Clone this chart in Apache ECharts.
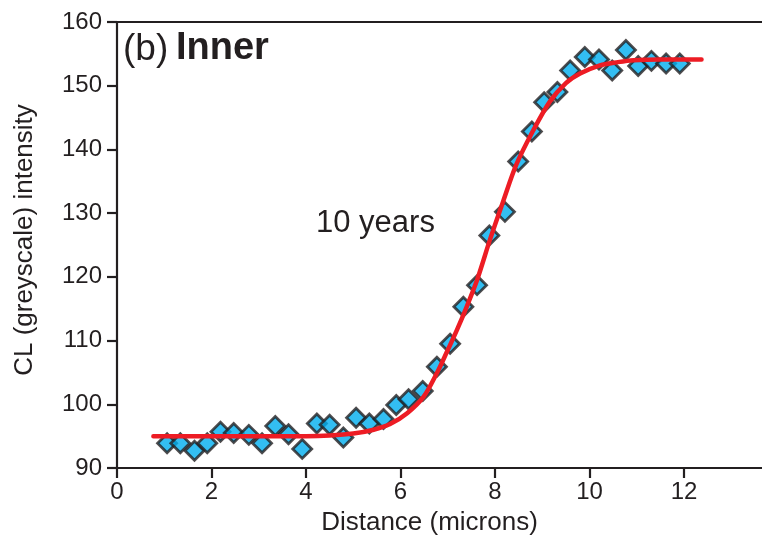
<!DOCTYPE html>
<html>
<head>
<meta charset="utf-8">
<script src="https://cdn.jsdelivr.net/npm/echarts@6/dist/echarts.min.js"></script>
<style>
html,body{margin:0;padding:0;background:#fff;}
#chart{width:762px;height:544px;}
</style>
</head>
<body>
<div id="chart"></div>
<script>
// ---- measured points (distance, intensity)
var distance = [1.06,1.34,1.64,1.91,2.19,2.47,2.79,3.07,3.35,3.63,3.92,4.23,4.5,4.79,5.06,5.34,5.64,5.91,6.17,6.47,
    6.77,7.05,7.33,7.62,7.88,8.21,8.49,8.78,9.04,9.32,9.59,9.9,10.2,10.48,10.77,11.03,11.31,11.62,11.91];
var intensity = [93.9,93.9,92.7,93.9,95.7,95.5,95.2,93.9,96.6,95.3,93.0,97.0,96.8,94.8,97.9,97.0,97.7,99.9,100.8,102.1,
    105.9,109.5,115.3,118.7,126.5,130.2,138.1,142.8,147.4,149.0,152.4,154.5,154.1,152.4,155.6,153.1,153.9,153.5,153.5];

// ---- fitted curve
var fitX = [0.77,2,3,4,4.5,5.0,5.43,5.78,6.14,6.49,6.77,6.98,7.19,7.4,7.62,7.9,8.17,8.45,8.81,9.16,9.5,9.8,10.22,10.6,10.93,11.5,12.37];
var fitY = [95.0,95.0,95.0,95.0,95.1,95.4,96.0,96.9,98.6,101.2,104.9,108.2,111.6,115.3,119.5,126.0,131.8,137.6,143.0,147.5,150.4,151.9,153.2,153.7,154.0,154.1,154.1];

var xTicks = [0,2,4,6,8,10,12];
var yTicks = [90,100,110,120,130,140,150,160];

var ink = "#231f20";
var scatterData = [];
for(var i = 0;i < distance.length;i++){
    scatterData.push([distance[i], intensity[i]]);
}
var fitData = [];
for(var j = 0;j < fitX.length;j++){
    fitData.push([fitX[j], fitY[j]]);
}

var myChart = echarts.init(document.getElementById("chart"));
var option = {
    backgroundColor:"#fff",
    animation:false,
    textStyle:{fontFamily:"Liberation Sans"},
    grid:{left:117, right:0, top:22, bottom:76},
    xAxis:[{
        type:"value",
        min:0,
        max:13.65,
        interval:2,
        name:"Distance (microns)",
        nameLocation:"middle",
        nameGap:42,
        nameTextStyle:{color:ink, fontSize:26, fontFamily:"Liberation Sans", padding:[0,20,0,0]},
        axisLine:{show:true, lineStyle:{color:ink, width:2.2}},
        axisTick:{show:true, length:10, lineStyle:{color:ink, width:2.2}},
        axisLabel:{color:ink, fontSize:24, margin:12,
            formatter:function(v){return xTicks.indexOf(v) >= 0 ? String(v) : "";},
            showMaxLabel:false},
        splitLine:{show:false}
    },{//---top border line
        type:"value",
        position:"top",
        min:0,
        max:13.65,
        axisLine:{show:true, onZero:false, lineStyle:{color:ink, width:2.2}},
        axisTick:{show:false},
        axisLabel:{show:false},
        splitLine:{show:false}
    }],
    yAxis:{
        type:"value",
        min:90,
        max:160,
        interval:10,
        name:"CL (greyscale) intensity",
        nameLocation:"middle",
        nameGap:79,
        nameTextStyle:{color:ink, fontSize:26, fontFamily:"Liberation Sans", padding:[0,0,0,10]},
        axisLine:{show:true, lineStyle:{color:ink, width:2.2}},
        axisTick:{show:true, length:10, lineStyle:{color:ink, width:2.2}},
        axisLabel:{color:ink, fontSize:24, margin:15,
            formatter:function(v){return yTicks.indexOf(v) >= 0 ? String(v) : "";}},
        splitLine:{show:false}
    },
    graphic:[
        {type:"text", left:123, top:31, style:{text:"(b)", font:"37px 'Liberation Sans'", fill:ink}},
        {type:"text", left:176, top:30, style:{text:"Inner", font:"bold 38px 'Liberation Sans'", fill:ink}},
        {type:"text", left:316, top:208, style:{text:"10 years", font:"31px 'Liberation Sans'", fill:ink}}
    ],
    series:[
        {
            name:"data",
            type:"scatter",
            data:scatterData,
            symbol:"diamond",
            symbolSize:[19,19],
            itemStyle:{color:"#00aeef", borderColor:ink, borderWidth:2.8},
            z:2
        },
        {
            name:"fit",
            type:"line",
            data:fitData,
            smooth:0.3,
            symbol:"none",
            lineStyle:{color:"#ed1c24", width:4.5, cap:"round"},
            z:3
        }
    ]
};
myChart.setOption(option);
</script>
</body>
</html>
